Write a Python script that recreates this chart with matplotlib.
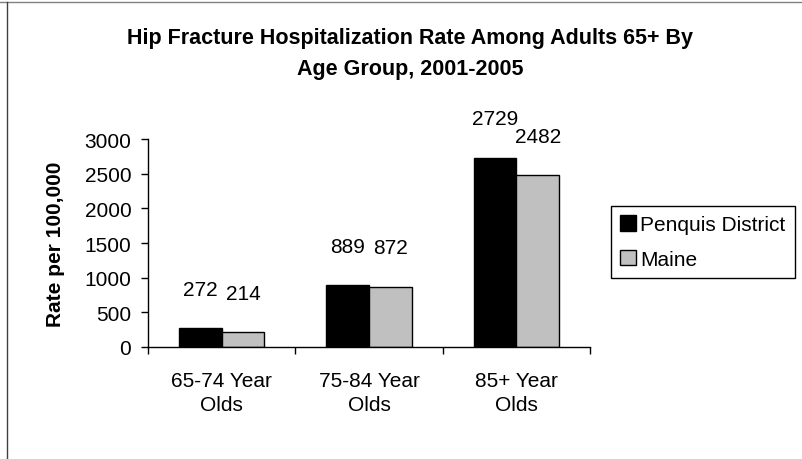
import matplotlib
matplotlib.use("Agg")
import matplotlib.pyplot as plt
from matplotlib.lines import Line2D
import numpy as np

plt.rcParams['font.family'] = ['Liberation Sans', 'DejaVu Sans']

categories = ["65-74 Year\nOlds", "75-84 Year\nOlds", "85+ Year\nOlds"]
penquis = [272, 889, 2729]
maine = [214, 872, 2482]
series_names = ["Penquis District", "Maine"]
yticks = [0, 500, 1000, 1500, 2000, 2500, 3000]

W, H = 802, 460
fig = plt.figure(figsize=(W / 100, H / 100), dpi=100)
ax = fig.add_axes([148 / W, (H - 348) / H, (590 - 148) / W, (348 - 140) / H])

x = np.arange(len(categories))
bw = 0.29
b1 = ax.bar(x - bw / 2, penquis, bw, color='black', edgecolor='black', linewidth=1,
            label=series_names[0])
b2 = ax.bar(x + bw / 2, maine, bw, color='#c0c0c0', edgecolor='black', linewidth=1,
            label=series_names[1])

for bars, vals in [(b1, penquis), (b2, maine)]:
    for rect, v in zip(bars, vals):
        ax.annotate(str(v), (rect.get_x() + rect.get_width() / 2, v),
                    xytext=(0, 28), textcoords='offset points',
                    ha='center', va='center', fontsize=15)

ax.set_xlim(-0.5, len(categories) - 0.5)
ax.set_ylim(0, 3000)
ax.set_yticks(yticks)
ax.tick_params(axis='y', direction='out', length=5, width=1, pad=7, labelsize=15)

# category boundaries as ticks, labels in between
ax.set_xticks(np.arange(len(categories) + 1) - 0.5)
ax.set_xticklabels([])
ax.set_xticks(x, minor=True)
ax.set_xticklabels(categories, minor=True, fontsize=15, linespacing=1.35)
ax.tick_params(axis='x', which='major', direction='out', length=5, width=1)
ax.tick_params(axis='x', which='minor', length=0, pad=17)

for s in ['top', 'right']:
    ax.spines[s].set_visible(False)
for s in ['left', 'bottom']:
    ax.spines[s].set_linewidth(1)

ax.set_ylabel("Rate per 100,000", fontsize=15, fontweight='bold')
ax.yaxis.set_label_coords((65 - 148) / (590 - 148), 0.5)

fig.text(410 / W, 1 - 54 / H,
         "Hip Fracture Hospitalization Rate Among Adults 65+ By\nAge Group, 2001-2005",
         ha='center', va='center', fontsize=15.5, fontweight='bold', linespacing=1.6)

leg = ax.legend(loc='upper left', bbox_to_anchor=(611 / W, 1 - 207 / H),
                bbox_transform=fig.transFigure, borderaxespad=0, fontsize=15,
                handlelength=0.75, handleheight=0.75, handletextpad=0.2,
                labelspacing=0.75, borderpad=0.45, fancybox=False, framealpha=1)
leg.get_frame().set_edgecolor('black')
leg.get_frame().set_linewidth(1)

# outer chart border (only top and left visible in the reference)
fig.add_artist(Line2D([0, 1], [1 - 2.5 / H, 1 - 2.5 / H], transform=fig.transFigure,
                      color='#808080', linewidth=1))
fig.add_artist(Line2D([7 / W, 7 / W], [0, 1 - 2.5 / H], transform=fig.transFigure,
                      color='#404040', linewidth=1))

fig.savefig("out.png", dpi=100)
